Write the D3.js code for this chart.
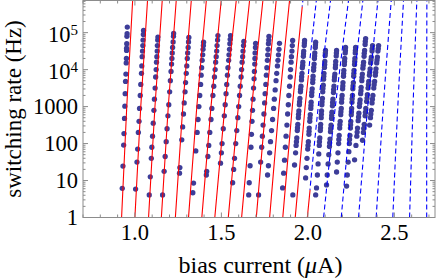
<!DOCTYPE html>
<html>
<head>
<meta charset="utf-8">
<script src="https://cdn.jsdelivr.net/npm/d3@7"></script>
<style>
body { margin: 0; background: #fff; }
text { font-family: "Liberation Serif", "Times New Roman", serif; fill: #000; }
</style>
</head>
<body>
<script>
// measured runs: [bias current (uA), log10 switching rate (Hz)]
const run01 = [[0.927,0.79],[0.931,1.39],[0.935,1.96],[0.937,2.27],[0.940,2.68],[0.942,3.01],[0.944,3.35],[0.946,3.68],[0.948,3.88],[0.950,4.18],[0.951,4.30],[0.952,4.52],[0.952,4.58],[0.953,4.70],[0.954,4.90],[0.955,4.97],[0.956,5.15]]
const run02 = [[1.004,0.77],[1.012,1.5],[1.016,1.85],[1.020,2.3],[1.024,2.6],[1.027,2.95],[1.031,3.3],[1.034,3.6],[1.038,3.9],[1.040,4.1],[1.042,4.35],[1.044,4.5],[1.046,4.65],[1.047,4.8],[1.049,4.95],[1.050,5.06]]
const run03 = [[1.083,0.61],[1.089,1.1],[1.095,1.6],[1.098,1.9],[1.102,2.2],[1.106,2.55],[1.110,2.9],[1.113,3.2],[1.117,3.5],[1.120,3.8],[1.123,4.0],[1.125,4.2],[1.127,4.35],[1.129,4.5],[1.130,4.65],[1.132,4.8],[1.133,4.88]]
const run04 = [[1.160,0.61],[1.169,1.25],[1.175,1.65],[1.181,2.05],[1.186,2.4],[1.191,2.75],[1.196,3.05],[1.201,3.4],[1.205,3.7],[1.209,3.95],[1.212,4.15],[1.214,4.3],[1.216,4.45],[1.218,4.6],[1.221,4.75],[1.223,4.9],[1.224,4.98]]
const run05 = [[1.258,1.2],[1.260,1.35],[1.271,2.1],[1.276,2.45],[1.281,2.8],[1.285,3.1],[1.290,3.4],[1.293,3.65],[1.297,3.9],[1.300,4.1],[1.303,4.3],[1.305,4.45],[1.308,4.6],[1.310,4.75],[1.312,4.87]]
const run06 = [[1.335,0.67],[1.339,0.93],[1.352,1.8],[1.360,2.3],[1.365,2.65],[1.370,3.0],[1.375,3.3],[1.380,3.6],[1.383,3.85],[1.386,4.05],[1.389,4.25],[1.392,4.4],[1.394,4.55],[1.396,4.65],[1.397,4.74]]
const run07 = [[1.413,1.15],[1.415,1.25],[1.422,1.65],[1.427,1.95],[1.433,2.3],[1.440,2.65],[1.445,2.95],[1.451,3.3],[1.456,3.55],[1.460,3.8],[1.464,4.0],[1.467,4.2],[1.470,4.35],[1.473,4.5],[1.475,4.65],[1.478,4.8],[1.480,4.92]]
const run08 = [[1.495,1.47],[1.500,1.75],[1.504,2.0],[1.511,2.4],[1.517,2.75],[1.522,3.05],[1.527,3.35],[1.531,3.6],[1.535,3.85],[1.538,4.05],[1.542,4.25],[1.544,4.4],[1.547,4.55],[1.549,4.7],[1.551,4.82],[1.553,4.92]]
const run09 = [[1.565,0.94],[1.571,1.3],[1.576,1.6],[1.583,2.0],[1.589,2.35],[1.595,2.7],[1.600,3.0],[1.605,3.3],[1.609,3.55],[1.614,3.8],[1.617,4.0],[1.620,4.2],[1.623,4.35],[1.625,4.5],[1.628,4.65],[1.630,4.76]]
const run10 = [[1.658,0.61],[1.661,0.94],[1.666,1.4],[1.671,1.9],[1.674,2.25],[1.677,2.6],[1.680,2.9],[1.683,3.2],[1.686,3.5],[1.689,3.75],[1.691,3.95],[1.693,4.15],[1.694,4.3],[1.695,4.45],[1.697,4.6],[1.698,4.71]]
const run11 = [[1.715,0.61],[1.727,1.5],[1.733,1.9],[1.737,2.2],[1.741,2.5],[1.746,2.8],[1.750,3.1],[1.753,3.35],[1.757,3.6],[1.760,3.85],[1.763,4.05],[1.766,4.25],[1.768,4.4],[1.770,4.55],[1.772,4.7],[1.774,4.8],[1.775,4.9]]
const run12 = [[1.767,1.15],[1.772,1.4],[1.779,1.75],[1.784,2.05],[1.790,2.35],[1.796,2.65],[1.802,2.95],[1.806,3.2],[1.811,3.45],[1.816,3.7],[1.820,3.9],[1.824,4.1],[1.827,4.25],[1.830,4.4],[1.833,4.55],[1.836,4.71]]
const run13 = [[1.854,0.8],[1.860,1.2],[1.865,1.55],[1.870,1.9],[1.874,2.2],[1.879,2.5],[1.883,2.8],[1.887,3.05],[1.890,3.3],[1.894,3.55],[1.898,3.8],[1.900,4.0],[1.903,4.2],[1.905,4.35],[1.908,4.5],[1.910,4.65],[1.912,4.79]]
const run14 = [[1.981,4.79],[1.980,4.72],[1.979,4.65],[1.976,4.50],[1.975,4.43],[1.974,4.36],[1.971,4.20],[1.970,4.12],[1.968,4.05],[1.966,3.90],[1.964,3.81],[1.963,3.72],[1.960,3.55],[1.958,3.47],[1.957,3.40],[1.954,3.22],[1.952,3.13],[1.951,3.05],[1.948,2.88],[1.946,2.79],[1.945,2.70],[1.942,2.52],[1.940,2.43],[1.939,2.35],[1.936,2.15],[1.934,2.05],[1.932,1.95],[1.929,1.75],[1.923,1.42],[1.913,0.61]]
const run15 = [[2.045,4.74],[2.044,4.67],[2.043,4.60],[2.040,4.45],[2.039,4.37],[2.038,4.30],[2.036,4.15],[2.034,4.06],[2.033,3.98],[2.030,3.82],[2.029,3.73],[2.028,3.65],[2.025,3.48],[2.023,3.39],[2.022,3.30],[2.019,3.12],[2.018,3.03],[2.017,2.95],[2.014,2.78],[2.012,2.69],[2.011,2.60],[2.008,2.42],[2.007,2.33],[2.006,2.25],[2.003,2.05],[2.001,1.95],[1.999,1.85],[1.995,1.60],[1.991,1.35],[1.987,1.07]]
const run16 = [[2.102,4.52],[2.101,4.45],[2.100,4.38],[2.098,4.22],[2.097,4.14],[2.096,4.06],[2.093,3.90],[2.092,3.82],[2.091,3.74],[2.089,3.58],[2.087,3.49],[2.086,3.40],[2.084,3.22],[2.082,3.13],[2.081,3.05],[2.079,2.88],[2.078,2.79],[2.077,2.70],[2.074,2.52],[2.073,2.43],[2.072,2.35],[2.069,2.15],[2.067,2.05],[2.066,1.95],[2.063,1.72],[2.059,1.45],[2.055,1.15],[2.050,0.80],[2.045,0.61]]
const run17 = [[2.166,4.52],[2.165,4.45],[2.164,4.37],[2.161,4.22],[2.160,4.13],[2.159,4.05],[2.156,3.88],[2.154,3.80],[2.153,3.72],[2.151,3.55],[2.149,3.46],[2.148,3.38],[2.145,3.20],[2.143,3.11],[2.142,3.02],[2.139,2.85],[2.138,2.76],[2.137,2.68],[2.134,2.50],[2.132,2.41],[2.131,2.32],[2.128,2.12],[2.126,2.02],[2.125,1.92],[2.121,1.70],[2.117,1.45],[2.112,1.15],[2.108,0.88]]
const run18 = [[2.218,4.60],[2.217,4.52],[2.216,4.45],[2.213,4.30],[2.212,4.22],[2.211,4.14],[2.208,3.98],[2.207,3.90],[2.206,3.82],[2.203,3.65],[2.202,3.56],[2.201,3.48],[2.198,3.30],[2.196,3.21],[2.195,3.12],[2.193,2.95],[2.191,2.86],[2.190,2.78],[2.187,2.60],[2.185,2.51],[2.184,2.42],[2.181,2.22],[2.179,2.11],[2.178,2.00],[2.174,1.75],[2.170,1.50],[2.166,1.23]]
const run19 = [[2.276,4.60],[2.275,4.52],[2.274,4.45],[2.272,4.30],[2.271,4.22],[2.270,4.14],[2.267,3.98],[2.266,3.90],[2.265,3.82],[2.263,3.65],[2.261,3.56],[2.260,3.48],[2.258,3.30],[2.256,3.21],[2.255,3.12],[2.253,2.95],[2.252,2.86],[2.251,2.78],[2.248,2.60],[2.247,2.51],[2.246,2.42],[2.243,2.22],[2.241,2.11],[2.240,2.00],[2.237,1.78],[2.233,1.50],[2.228,1.15],[2.224,0.85]]
const run20 = [[2.334,4.84],[2.332,4.76],[2.331,4.68],[2.328,4.52],[2.326,4.44],[2.325,4.36],[2.322,4.20],[2.320,4.12],[2.318,4.04],[2.315,3.88],[2.313,3.79],[2.312,3.70],[2.308,3.52],[2.307,3.43],[2.305,3.35],[2.302,3.18],[2.300,3.09],[2.298,3.00],[2.295,2.82],[2.293,2.72],[2.291,2.62],[2.287,2.42],[2.285,2.31],[2.283,2.20],[2.278,1.95],[2.270,1.56]]
const run21 = [[2.374,4.65],[2.372,4.57],[2.371,4.50],[2.367,4.34],[2.365,4.26],[2.363,4.18],[2.360,4.02],[2.358,3.93],[2.356,3.85],[2.352,3.68],[2.350,3.59],[2.348,3.50],[2.344,3.32],[2.342,3.23],[2.340,3.14],[2.335,2.95],[2.333,2.85],[2.331,2.75],[2.326,2.52],[2.323,2.41],[2.321,2.30],[2.316,2.09]]
const run22 = [[2.409,4.65],[2.407,4.57],[2.405,4.50],[2.402,4.34],[2.400,4.26],[2.398,4.18],[2.394,4.02],[2.392,3.93],[2.390,3.85],[2.386,3.68],[2.383,3.59],[2.381,3.50],[2.376,3.30],[2.373,3.20],[2.371,3.10],[2.367,2.90],[2.364,2.80],[2.362,2.70],[2.357,2.50]]
const runs = [run01, run02, run03, run04, run05, run06, run07, run08, run09, run10, run11,
  run12, run13, run14, run15, run16, run17, run18, run19, run20, run21, run22]

// model curves: bias current at 1 Hz, at 1000 Hz and at the top of the plot
const curveLow  = [0.923,1.000,1.079,1.153,1.234,1.310,1.387,1.462,1.540,1.617,1.702,1.779,1.855,1.927,1.997,2.091,2.193,2.293,2.395,2.491,2.588,2.687]
const curveMid  = [0.953,1.034,1.116,1.193,1.277,1.358,1.440,1.520,1.598,1.675,1.756,1.833,1.910,1.984,2.060,2.159,2.252,2.346,2.436,2.520,2.608,2.687]
const curveHigh = [0.987,1.073,1.158,1.239,1.326,1.413,1.499,1.586,1.663,1.740,1.817,1.894,1.971,2.049,2.131,2.235,2.318,2.405,2.482,2.553,2.630,2.688]
// rate (Hz) where the curve turns from solid red to dashed blue
const curveSwitch = [7.4e5,7.4e5,7.4e5,7.4e5,7.4e5,7.4e5,7.4e5,7.4e5,7.4e5,7.4e5,7.4e5,7.4e5,5.1e5,7000,5.6,1,1,1,1,1,1,1]

const xMajor = [1, 1.5, 2, 2.5]
const xLabels = ["1.0", "1.5", "2.0", "2.5"]
const yMajor = [1, 10, 100, 1000, 1e4, 1e5]
const yLabels = ["1", "10", "100", "1000", "10", "10"]
const yExp = ["", "", "", "", "4", "5"]

const width = 436, height = 278
const rateTop = 7.4e5

const x = d3.scaleLinear().domain([0.7, 2.735]).range([83, 435])
const y = d3.scaleLog().domain([1, rateTop]).range([217.5, 0.5])

const svg = d3.select("body").append("svg")
  .attr("width", width)
  .attr("height", height)

const defs = svg.append("defs")
defs.append("clipPath").attr("id", "plot")
  .append("rect")
  .attr("x", x.range()[0]).attr("y", y.range()[1])
  .attr("width", x.range()[1] - x.range()[0])
  .attr("height", y.range()[0] - y.range()[1])

// data points
svg.append("g")
  .attr("clip-path", "url(#plot)")
  .selectAll("circle")
  .data(runs.flat())
  .join("circle")
  .attr("cx", d => x(d[0]))
  .attr("cy", d => y(Math.pow(10, d[1])))
  .attr("r", 2.65)
  .attr("fill", "#3d3d99")

// model curves, red below the switch rate, dashed blue above it
const line = d3.line()
  .x(d => x(d[0]))
  .y(d => y(d[1]))
  .curve(d3.curveNatural)

const curves = svg.append("g").attr("clip-path", "url(#plot)")
curveLow.forEach((lo, i) => {
  const pts = [[lo, 1], [curveMid[i], 1000], [curveHigh[i], rateTop]]
  const ys = y(curveSwitch[i])
  const idR = "cr" + i, idB = "cb" + i
  defs.append("clipPath").attr("id", idR).append("rect")
    .attr("x", 0).attr("y", ys).attr("width", width).attr("height", y(1) - ys)
  defs.append("clipPath").attr("id", idB).append("rect")
    .attr("x", 0).attr("y", 0).attr("width", width).attr("height", ys)
  curves.append("path")
    .attr("d", line(pts))
    .attr("clip-path", `url(#${idR})`)
    .attr("fill", "none")
    .attr("stroke", "#ff0000")
    .attr("stroke-width", 1.1)
  curves.append("path")
    .attr("d", line(pts))
    .attr("clip-path", `url(#${idB})`)
    .attr("fill", "none")
    .attr("stroke", "#0000ff")
    .attr("stroke-width", 1.1)
    .attr("stroke-dasharray", "5,3")
})

// frame and ticks
const frameColor = "#8c8c8c"
const [x0, x1] = x.range(), [y0, y1] = y.range()
svg.append("rect")
  .attr("x", x0).attr("y", y1)
  .attr("width", x1 - x0).attr("height", y0 - y1)
  .attr("fill", "none").attr("stroke", frameColor).attr("stroke-width", 1)

const ticks = svg.append("g").attr("stroke", frameColor).attr("stroke-width", 1)
const xMinor = d3.range(7, 28).map(d => d / 10)
xMinor.forEach(v => {
  const len = xMajor.some(m => Math.abs(m - v) < 1e-6) ? 5 : 3
  ticks.append("line").attr("x1", x(v)).attr("x2", x(v)).attr("y1", y0).attr("y2", y0 - len)
  ticks.append("line").attr("x1", x(v)).attr("x2", x(v)).attr("y1", y1).attr("y2", y1 + len)
})
yMajor.forEach(d => {
  ticks.append("line").attr("x1", x0).attr("x2", x0 + 5).attr("y1", y(d)).attr("y2", y(d))
  ticks.append("line").attr("x1", x1).attr("x2", x1 - 5).attr("y1", y(d)).attr("y2", y(d))
  for (let k = 2; k <= 9; k++) {
    const v = d * k
    if (v > rateTop) break
    ticks.append("line").attr("x1", x0).attr("x2", x0 + 2.5).attr("y1", y(v)).attr("y2", y(v))
    ticks.append("line").attr("x1", x1).attr("x2", x1 - 2.5).attr("y1", y(v)).attr("y2", y(v))
  }
})

// tick labels
svg.append("g").selectAll("text")
  .data(xMajor)
  .join("text")
  .attr("x", d => x(d))
  .attr("y", 240)
  .attr("text-anchor", "middle")
  .attr("font-size", 22.5)
  .text((d, i) => xLabels[i])

yMajor.forEach((d, i) => {
  const t = svg.append("text")
    .attr("x", 78)
    .attr("y", y(d) + (yExp[i] ? 9 : 7.5))
    .attr("text-anchor", "end")
    .attr("font-size", 22.5)
  t.append("tspan").text(yLabels[i])
  if (yExp[i]) t.append("tspan").attr("dy", -7).attr("font-size", 15).text(yExp[i])
})

// axis titles
const xt = svg.append("text")
  .attr("x", 260.5).attr("y", 272.5)
  .attr("text-anchor", "middle")
  .attr("font-size", 24)
xt.append("tspan").text("bias current (")
xt.append("tspan").attr("font-style", "italic").text("μ")
xt.append("tspan").text("A)")

svg.append("text")
  .attr("transform", "translate(21,109) rotate(-90)")
  .attr("text-anchor", "middle")
  .attr("font-size", 23)
  .text("switching rate (Hz)")
</script>
</body>
</html>
